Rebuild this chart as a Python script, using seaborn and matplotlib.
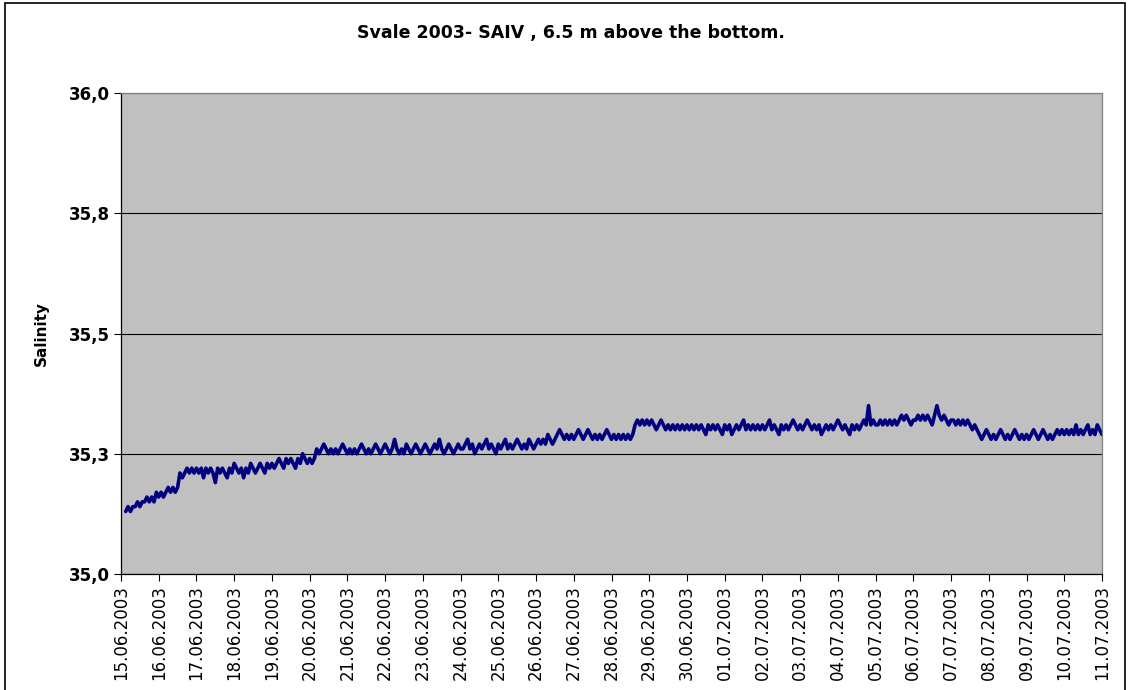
import pandas as pd
import matplotlib
matplotlib.use('Agg')
import matplotlib.pyplot as plt
import matplotlib.dates as mdates
import seaborn as sns
import numpy as np

# Salinity every 1.5 hours, one row per day
# (15.06.2003 03:00 -> 11.07.2003 00:00)
salinity = [
    35.13, 35.14, 35.13, 35.14, 35.14, 35.15, 35.14, 35.15, 35.15, 35.16, 35.15, 35.16, 35.15, 35.17, 35.16,  # 15.06
    35.17, 35.16, 35.17, 35.18, 35.17, 35.18, 35.17, 35.18, 35.21, 35.20, 35.21, 35.22, 35.21, 35.22, 35.21, 35.22,  # 16.06
    35.21, 35.22, 35.20, 35.22, 35.21, 35.22, 35.21, 35.19, 35.22, 35.21, 35.22, 35.21, 35.20, 35.22, 35.21, 35.23,  # 17.06
    35.22, 35.21, 35.22, 35.20, 35.22, 35.21, 35.23, 35.22, 35.21, 35.22, 35.23, 35.22, 35.21, 35.23, 35.22, 35.23,  # 18.06
    35.22, 35.23, 35.24, 35.23, 35.22, 35.24, 35.23, 35.24, 35.23, 35.22, 35.24, 35.23, 35.25, 35.24, 35.23, 35.24,  # 19.06
    35.23, 35.24, 35.26, 35.25, 35.26, 35.27, 35.26, 35.25, 35.26, 35.25, 35.26, 35.25, 35.26, 35.27, 35.26, 35.25,  # 20.06
    35.26, 35.25, 35.26, 35.25, 35.26, 35.27, 35.26, 35.25, 35.26, 35.25, 35.26, 35.27, 35.26, 35.25, 35.26, 35.27,  # 21.06
    35.26, 35.25, 35.26, 35.28, 35.26, 35.25, 35.26, 35.25, 35.27, 35.26, 35.25, 35.26, 35.27, 35.26, 35.25, 35.26,  # 22.06
    35.27, 35.26, 35.25, 35.26, 35.27, 35.26, 35.28, 35.26, 35.25, 35.26, 35.27, 35.26, 35.25, 35.26, 35.27, 35.26,  # 23.06
    35.26, 35.27, 35.28, 35.26, 35.27, 35.25, 35.26, 35.27, 35.26, 35.27, 35.28, 35.26, 35.27, 35.26, 35.25, 35.27,  # 24.06
    35.26, 35.27, 35.28, 35.26, 35.27, 35.26, 35.27, 35.28, 35.27, 35.26, 35.27, 35.26, 35.28, 35.27, 35.26, 35.27,  # 25.06
    35.28, 35.27, 35.28, 35.27, 35.29, 35.28, 35.27, 35.28, 35.29, 35.30, 35.29, 35.28, 35.29, 35.28, 35.29, 35.28,  # 26.06
    35.29, 35.30, 35.29, 35.28, 35.29, 35.30, 35.29, 35.28, 35.29, 35.28, 35.29, 35.28, 35.29, 35.30, 35.29, 35.28,  # 27.06
    35.29, 35.28, 35.29, 35.28, 35.29, 35.28, 35.29, 35.28, 35.29, 35.31, 35.32, 35.31, 35.32, 35.31, 35.32, 35.31,  # 28.06
    35.32, 35.31, 35.30, 35.31, 35.32, 35.31, 35.30, 35.31, 35.30, 35.31, 35.30, 35.31, 35.30, 35.31, 35.30, 35.31,  # 29.06
    35.30, 35.31, 35.30, 35.31, 35.30, 35.31, 35.30, 35.29, 35.31, 35.30, 35.31, 35.30, 35.31, 35.30, 35.29, 35.31,  # 30.06
    35.30, 35.31, 35.29, 35.30, 35.31, 35.30, 35.31, 35.32, 35.30, 35.31, 35.30, 35.31, 35.30, 35.31, 35.30, 35.31,  # 01.07
    35.30, 35.31, 35.32, 35.30, 35.31, 35.30, 35.29, 35.31, 35.30, 35.31, 35.30, 35.31, 35.32, 35.31, 35.30, 35.31,  # 02.07
    35.30, 35.31, 35.32, 35.31, 35.30, 35.31, 35.30, 35.31, 35.29, 35.30, 35.31, 35.30, 35.31, 35.30, 35.31, 35.32,  # 03.07
    35.31, 35.30, 35.31, 35.30, 35.29, 35.31, 35.30, 35.31, 35.30, 35.31, 35.32, 35.31, 35.35, 35.31, 35.32, 35.31,  # 04.07
    35.31, 35.32, 35.31, 35.32, 35.31, 35.32, 35.31, 35.32, 35.31, 35.32, 35.33, 35.32, 35.33, 35.32, 35.31, 35.32,  # 05.07
    35.32, 35.33, 35.32, 35.33, 35.32, 35.33, 35.32, 35.31, 35.33, 35.35, 35.33, 35.32, 35.33, 35.32, 35.31, 35.32,  # 06.07
    35.32, 35.31, 35.32, 35.31, 35.32, 35.31, 35.32, 35.31, 35.30, 35.31, 35.30, 35.29, 35.28, 35.29, 35.30, 35.29,  # 07.07
    35.28, 35.29, 35.28, 35.29, 35.30, 35.29, 35.28, 35.29, 35.28, 35.29, 35.30, 35.29, 35.28, 35.29, 35.28, 35.29,  # 08.07
    35.28, 35.29, 35.30, 35.29, 35.28, 35.29, 35.30, 35.29, 35.28, 35.29, 35.28, 35.29, 35.30, 35.29, 35.30, 35.29,  # 09.07
    35.30, 35.29, 35.30, 35.29, 35.31, 35.29, 35.30, 35.29, 35.30, 35.31, 35.29, 35.30, 35.29, 35.31, 35.30, 35.29,  # 10.07
]
times = pd.date_range('2003-06-15 03:00', periods=len(salinity), freq='90min')

y_ticks = [35.0, 35.25, 35.5, 35.75, 36.0]
y_tick_labels = ['35,0', '35,3', '35,5', '35,8', '36,0']
x_start, x_end = '2003-06-15', '2003-07-11'

sns.set_theme(style='white')
plt.rcParams['font.family'] = ['DejaVu Sans']
plt.rcParams['text.color'] = 'black'

df = pd.DataFrame({'time': times, 'salinity': salinity})

fig = plt.figure(figsize=(11.28, 6.9), dpi=100)
ax = fig.add_axes([121 / 1128, 1 - 574 / 690, 981 / 1128, 481 / 690])
ax.set_facecolor('#C0C0C0')

sns.lineplot(data=df, x='time', y='salinity', color='#000080', linewidth=2.6, ax=ax)

ax.set_ylim(35.0, 36.0)
ax.set_yticks(y_ticks)
ax.set_yticklabels(y_tick_labels, fontsize=12, fontweight='bold', color='black')
ax.set_xlim(pd.Timestamp(x_start), pd.Timestamp(x_end))
ax.xaxis.set_major_locator(mdates.DayLocator())
ax.xaxis.set_major_formatter(mdates.DateFormatter('%d.%m.%Y'))
plt.setp(ax.get_xticklabels(), rotation=90, fontsize=12, color='black')

ax.grid(axis='y', color='black', linewidth=0.8)
ax.set_axisbelow(True)
ax.tick_params(axis='both', direction='out', length=5, width=0.8, color='black',
               left=True, bottom=True, pad=3)

for side in ['top', 'right']:
    ax.spines[side].set_color('#808080')
for side in ['left', 'bottom']:
    ax.spines[side].set_color('black')
for s in ax.spines.values():
    s.set_linewidth(0.9)

ax.set_xlabel('')
ax.set_ylabel('Salinity', fontsize=11, fontweight='bold', labelpad=14, color='black')

fig.text(571 / 1128, 1 - 33 / 690, 'Svale 2003- SAIV , 6.5 m above the bottom.',
         ha='center', va='center', fontsize=12.5, fontweight='bold', color='black')

# chart area border
fig.patches.append(plt.Rectangle((5 / 1128, -0.05), 1120 / 1128, 1.05 - 3 / 690,
                                 transform=fig.transFigure, fill=False,
                                 edgecolor='black', linewidth=1.2))

fig.savefig('out.png', dpi=100)
